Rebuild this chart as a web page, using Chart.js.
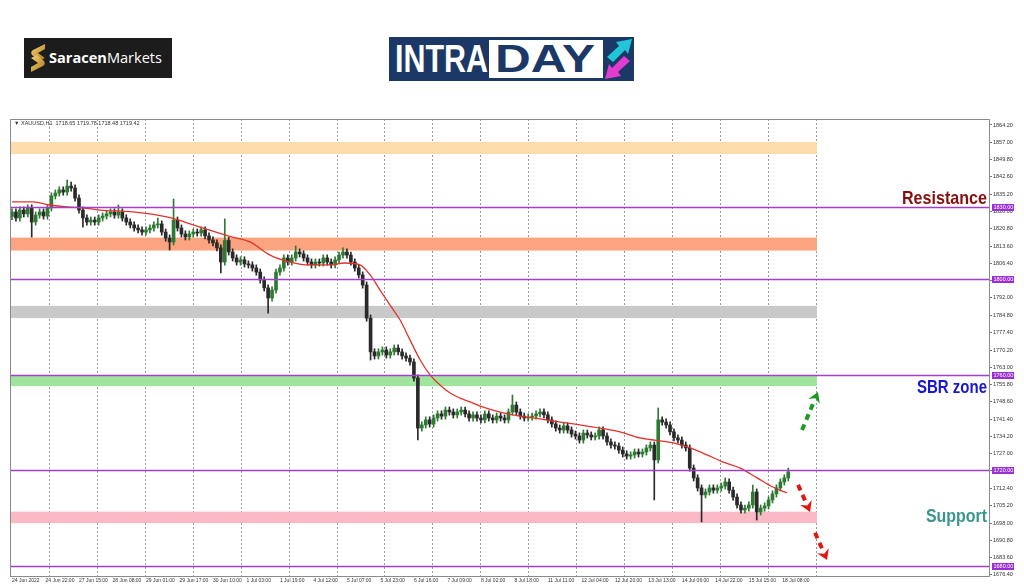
<!DOCTYPE html>
<html><head><meta charset="utf-8">
<script src="https://cdn.jsdelivr.net/npm/chart.js@4/dist/chart.umd.min.js"></script>
<style>
html,body{margin:0;padding:0;background:#fff;width:1024px;height:587px;overflow:hidden}
#chart{position:absolute;left:0;top:0}
.fit{position:absolute;white-space:nowrap;transform-origin:0 0}
#sar{position:absolute;left:24px;top:38px;width:148px;height:40px;background:#1c1c1c}
#sarText{left:25px;top:10px;color:#fff;font:14px "Open Sans",sans-serif;line-height:20px}
#intra{position:absolute;left:389px;top:37px;width:245px;height:44px;background:#1c3866}
#intraText{left:6px;top:0;color:#fff;font:bold 38px "Liberation Sans Narrow","Liberation Sans",sans-serif;line-height:44px}
#dayBox{position:absolute;left:100px;top:3px;width:114px;height:38px;background:#fff}
#dayText{left:6px;top:-3px;color:#1c3866;font:bold 38px "Liberation Sans Narrow","Liberation Sans",sans-serif;line-height:44px}
</style></head>
<body>
<canvas id="chart" width="1024" height="587"></canvas>
<div id="sar">
  <svg style="position:absolute;left:6px;top:6px" width="16" height="28" viewBox="0 0 16 28">
    <defs><linearGradient id="gold" x1="0" y1="0" x2="1" y2="1"><stop offset="0" stop-color="#f8d774"/><stop offset="1" stop-color="#a8761c"/></linearGradient></defs>
    <path d="M15 0 L3 6 Q0 8 2 11 L9 17 L15 14 L8 9 L15 5 Z" fill="url(#gold)"/>
    <path d="M1 28 L13 22 Q16 20 14 17 L7 11 L1 14 L8 19 L1 23 Z" fill="url(#gold)"/>
  </svg>
  <span id="sarText" class="fit"><b>Saracen</b>Markets</span>
</div>
<div id="intra">
  <span id="intraText" class="fit">INTRA</span>
  <div id="dayBox"><span id="dayText" class="fit">DAY</span></div>
  <svg style="position:absolute;left:214px;top:0" width="31" height="44" viewBox="0 0 31 44">
    <polygon points="4,20 16,9 13,5 29,2 25,17 22,13 10,25" fill="#22c4d8"/>
    <polygon points="27,24 15,35 18,39 2,42 6,27 9,31 21,19" fill="#e23ccf"/>
  </svg>
</div>
<script>
// ---------- DATA (2-hour candles, XAUUSD) ----------
const open = [1826.0,1827.9,1825.4,1828.7,1827.1,1829.6,1823.7,1826.6,1827.9,1826.2,
1829.6,1834.6,1835.8,1837.1,1836.2,1838.7,1837.9,1833.7,1828.7,1825.4,
1823.7,1824.5,1823.7,1825.4,1826.2,1827.1,1827.9,1826.6,1827.9,1825.4,
1823.7,1822.5,1821.2,1820.4,1819.5,1820.4,1821.2,1822.5,1822.9,1819.5,
1817.0,1815.4,1824.5,1821.2,1818.7,1817.5,1818.7,1819.5,1819.1,1820.4,
1817.9,1816.2,1815.0,1812.9,1807.0,1816.0,1811.2,1808.7,1807.0,1807.9,
1806.2,1805.8,1804.5,1802.8,1799.5,1796.2,1792.0,1795.3,1802.8,1804.5,
1808.7,1807.0,1808.7,1811.2,1810.4,1808.7,1807.0,1805.8,1807.0,1806.6,
1808.7,1807.0,1805.8,1807.9,1809.9,1811.2,1809.9,1807.0,1804.5,1801.6,
1797.4,1783.6,1769.5,1767.8,1769.5,1770.3,1768.2,1769.5,1771.1,1769.5,
1767.8,1766.9,1765.3,1758.6,1737.7,1739.0,1741.1,1739.4,1741.9,1743.6,
1742.7,1745.2,1744.4,1743.2,1744.4,1745.2,1743.6,1741.9,1743.2,1741.9,
1741.1,1743.6,1741.9,1741.1,1742.7,1741.9,1741.1,1744.4,1747.3,1744.4,
1742.7,1741.9,1742.3,1742.7,1743.6,1744.4,1743.2,1741.1,1739.4,1737.7,
1736.9,1738.6,1736.9,1735.2,1734.4,1732.7,1735.6,1734.8,1734.0,1734.4,
1736.9,1734.4,1731.9,1730.6,1730.2,1728.5,1726.9,1726.0,1726.5,1727.7,
1726.9,1727.7,1729.4,1730.6,1724.4,1741.1,1740.2,1739.0,1736.1,1733.6,
1732.7,1730.6,1729.4,1721.0,1716.9,1712.7,1709.8,1711.0,1712.7,1711.8,
1712.7,1713.5,1715.2,1711.8,1708.9,1705.6,1703.5,1704.3,1705.6,1711.0,
1702.7,1704.3,1705.2,1707.7,1710.2,1712.7,1715.2,1716.9];
const high = [1829.2,1829.2,1830.0,1830.0,1830.9,1830.9,1827.9,1829.2,1829.2,1830.9,
1835.9,1837.1,1838.4,1838.4,1841.2,1840.4,1839.2,1835.0,1830.0,1826.7,
1825.8,1825.8,1826.7,1827.5,1828.4,1829.2,1829.2,1830.8,1829.2,1826.7,
1825.0,1823.8,1822.5,1821.7,1821.7,1822.5,1823.8,1825.4,1824.2,1820.8,
1818.3,1833.3,1825.8,1822.5,1820.0,1820.0,1820.8,1820.8,1821.7,1821.7,
1819.2,1817.5,1816.3,1814.2,1825.0,1817.3,1812.5,1810.0,1809.2,1809.2,
1807.5,1807.1,1805.8,1804.1,1800.8,1797.5,1796.6,1804.1,1805.8,1810.0,
1810.0,1810.0,1813.7,1812.5,1811.7,1810.0,1808.3,1808.3,1808.3,1810.0,
1810.0,1808.3,1809.2,1811.2,1812.9,1812.5,1811.2,1808.3,1805.8,1802.9,
1798.7,1784.9,1770.8,1770.8,1771.6,1771.6,1770.8,1772.4,1772.4,1770.8,
1769.1,1768.2,1766.6,1759.9,1740.3,1742.4,1742.4,1743.2,1744.9,1744.9,
1746.5,1746.5,1745.7,1745.7,1746.5,1746.5,1744.9,1744.5,1744.5,1743.2,
1744.9,1744.9,1743.2,1744.0,1744.0,1743.2,1745.7,1751.5,1748.6,1745.7,
1744.0,1743.6,1744.0,1744.9,1745.7,1745.7,1744.5,1742.4,1740.7,1739.0,
1739.9,1739.9,1738.2,1736.5,1735.7,1736.9,1736.9,1736.1,1735.7,1738.2,
1738.2,1735.7,1733.2,1731.9,1731.5,1729.8,1728.2,1727.8,1729.0,1729.0,
1729.0,1730.7,1731.9,1731.9,1746.1,1742.4,1741.5,1740.3,1737.4,1734.9,
1734.0,1731.9,1730.7,1722.3,1718.2,1714.0,1712.3,1714.0,1714.0,1714.0,
1714.8,1716.9,1716.5,1713.1,1710.2,1706.9,1705.6,1706.9,1713.9,1712.3,
1705.6,1706.5,1709.0,1711.5,1714.0,1716.5,1718.2,1721.0];
const low = [1824.7,1824.1,1824.1,1825.8,1825.8,1817.4,1822.4,1825.3,1824.9,1824.9,
1828.3,1833.3,1834.5,1834.9,1834.9,1836.6,1832.4,1827.4,1821.6,1822.4,
1822.4,1822.4,1822.4,1824.1,1824.9,1825.8,1825.3,1825.3,1824.1,1822.4,
1821.2,1819.9,1819.1,1818.2,1818.2,1819.1,1819.9,1821.2,1818.2,1815.7,
1812.0,1814.1,1819.9,1817.4,1816.2,1816.2,1817.4,1817.8,1817.8,1816.6,
1814.9,1813.7,1811.6,1802.5,1805.7,1809.9,1807.4,1805.7,1805.7,1804.9,
1804.5,1803.2,1801.5,1798.2,1794.9,1785.7,1790.7,1794.0,1801.5,1803.2,
1805.7,1805.7,1807.4,1809.1,1807.4,1805.7,1804.5,1804.5,1805.3,1805.3,
1805.7,1804.5,1804.5,1806.6,1808.6,1808.6,1805.7,1803.2,1800.3,1796.1,
1782.3,1766.1,1766.5,1766.5,1768.2,1766.9,1766.9,1768.2,1768.2,1766.5,
1765.6,1764.0,1757.3,1732.7,1736.4,1737.7,1738.1,1738.1,1740.6,1741.4,
1741.4,1743.1,1741.9,1741.9,1743.1,1742.3,1740.6,1740.6,1740.6,1739.8,
1739.8,1740.6,1739.8,1739.8,1740.6,1739.8,1739.8,1743.1,1743.1,1741.4,
1740.6,1740.6,1741.0,1741.4,1742.3,1741.9,1739.8,1738.1,1736.4,1735.6,
1735.6,1735.6,1733.9,1733.1,1731.4,1731.4,1733.5,1732.7,1732.7,1733.1,
1733.1,1730.6,1729.3,1728.9,1727.2,1725.6,1724.7,1724.7,1725.2,1725.6,
1725.6,1726.4,1728.1,1707.7,1723.1,1738.9,1737.7,1734.8,1732.3,1731.4,
1729.3,1728.1,1719.7,1715.6,1711.4,1698.5,1708.5,1709.7,1710.5,1710.5,
1711.4,1712.2,1710.5,1707.6,1704.3,1702.2,1702.2,1703.0,1704.3,1699.3,
1701.4,1703.0,1703.9,1706.4,1708.9,1711.4,1713.9,1715.6];
const close = [1827.9,1825.4,1828.7,1827.1,1829.6,1823.7,1826.6,1827.9,1826.2,1829.6,
1834.6,1835.8,1837.1,1836.2,1838.7,1837.9,1833.7,1828.7,1825.4,1823.7,
1824.5,1823.7,1825.4,1826.2,1827.1,1827.9,1826.6,1827.9,1825.4,1823.7,
1822.5,1821.2,1820.4,1819.5,1820.4,1821.2,1822.5,1822.9,1819.5,1817.0,
1815.4,1824.5,1821.2,1818.7,1817.5,1818.7,1819.5,1819.1,1820.4,1817.9,
1816.2,1815.0,1812.9,1807.0,1816.0,1811.2,1808.7,1807.0,1807.9,1806.2,
1805.8,1804.5,1802.8,1799.5,1796.2,1792.0,1795.3,1802.8,1804.5,1808.7,
1807.0,1808.7,1811.2,1810.4,1808.7,1807.0,1805.8,1807.0,1806.6,1808.7,
1807.0,1805.8,1807.9,1809.9,1811.2,1809.9,1807.0,1804.5,1801.6,1797.4,
1783.6,1769.5,1767.8,1769.5,1770.3,1768.2,1769.5,1771.1,1769.5,1767.8,
1766.9,1765.3,1758.6,1737.7,1739.0,1741.1,1739.4,1741.9,1743.6,1742.7,
1745.2,1744.4,1743.2,1744.4,1745.2,1743.6,1741.9,1743.2,1741.9,1741.1,
1743.6,1741.9,1741.1,1742.7,1741.9,1741.1,1744.4,1747.3,1744.4,1742.7,
1741.9,1742.3,1742.7,1743.6,1744.4,1743.2,1741.1,1739.4,1737.7,1736.9,
1738.6,1736.9,1735.2,1734.4,1732.7,1735.6,1734.8,1734.0,1734.4,1736.9,
1734.4,1731.9,1730.6,1730.2,1728.5,1726.9,1726.0,1726.5,1727.7,1726.9,
1727.7,1729.4,1730.6,1724.4,1741.1,1740.2,1739.0,1736.1,1733.6,1732.7,
1730.6,1729.4,1721.0,1716.9,1712.7,1709.8,1711.0,1712.7,1711.8,1712.7,
1713.5,1715.2,1711.8,1708.9,1705.6,1703.5,1704.3,1705.6,1711.0,1702.7,
1704.3,1705.2,1707.7,1710.2,1712.7,1715.2,1716.9,1719.4];
const HOURS_PER_CANDLE = 2;

// moving average: hour index and value
const maHour  = [0,10.6,19.2,28,36,44.6,61.4,78.6,95.4,112,120.8,131,141.2,151.2,161.4,169,176.6,181.8,186.8,191.8,197,202,207.2,212.2,217.2,222.4,227.4,232.4,237.6,247.8,257.8,268,278.2,288.4,298.4,308.6,318.8,335.6,344.2,352.8,361,369.6,378.2,386.2,393.4];
const maValue = [1832.1,1832.1,1830.8,1830.0,1829.6,1828.7,1827.9,1825.8,1821.6,1817.4,1815.4,1809.9,1807.0,1805.8,1805.8,1806.6,1805.8,1801.6,1795.3,1789.1,1782.8,1774.5,1766.1,1759.9,1755.7,1752.3,1750.2,1748.6,1746.9,1744.4,1742.7,1741.5,1740.2,1739.0,1737.7,1736.1,1733.6,1731.5,1729.4,1726.5,1723.5,1721.0,1716.9,1713.1,1710.6];

// axis tick labels
const xTickLabels = ["24 Jun 2022","24 Jun 22:00","27 Jun 15:00","28 Jun 08:00","29 Jun 01:00","29 Jun 17:00","30 Jun 10:00","1 Jul 03:00","1 Jul 19:00","4 Jul 12:00","5 Jul 07:00","5 Jul 23:00","6 Jul 16:00","7 Jul 09:00","8 Jul 02:00","8 Jul 18:00","11 Jul 11:00","12 Jul 04:00","12 Jul 20:00","13 Jul 13:00","14 Jul 06:00","14 Jul 22:00","15 Jul 15:00","18 Jul 08:00"];
const HOURS_PER_XLABEL = 17;
const yTickValues = [1864.2,1857.0,1849.8,1842.6,1835.2,1828.0,1820.8,1813.6,1806.4,1799.2,1792.0,1784.8,1777.4,1770.2,1763.0,1755.8,1748.6,1741.4,1734.2,1727.0,1719.8,1712.4,1705.2,1698.0,1690.8,1683.6,1676.4];

// horizontal levels and zones
const levels = [1830, 1800, 1760, 1720, 1680];
const zoneLow  = [1852.1, 1811.8, 1783.6, 1755.2, 1698.0];
const zoneHigh = [1857.1, 1817.2, 1788.7, 1759.4, 1702.8];
const zoneColors = ['#fedcac', '#fba47f', '#c9c9c9', '#9fe59e', '#f9bac6'];

// annotations
const annotTexts  = ['Resistance', 'SBR zone', 'Support'];
const annotPrice  = [1831.2, 1752.3, 1698.5];
const annotColors = ['#8b0e0e', '#1616d4', '#389691'];
const arrowFrom = [[401.0, 1736.9], [399.0, 1714.0], [407.6, 1694.0]];
const arrowTo   = [[409.1, 1752.8], [405.1, 1702.7], [413.7, 1682.6]];
const arrowColors = ['#1c9a22', '#e5140f', '#e5140f'];
const headerText = '\u25BC XAUUSD,H1  1718.65 1719.78 1718.48 1719.42';

// ---------- layout constants ----------
const X_MIN = -0.51, X_MAX = 496.4, Y_MIN = 1675.95, Y_MAX = 1866.7;
const GRID_START = 18.8, GRID_STEP = 24.36, GRID_COUNT = 17;

const wickData = open.map((o, i) => ({x: i * HOURS_PER_CANDLE, y: [low[i], high[i]]}));
const bodyData = open.map((o, i) => ({x: i * HOURS_PER_CANDLE, y: [Math.min(o, close[i]), Math.max(o, close[i])]}));
const maData = maHour.map((h, i) => ({x: h, y: maValue[i]}));
const candleColor = ctx => close[ctx.dataIndex] >= open[ctx.dataIndex] ? '#2f7a33' : '#2a2a2a';

const overlay = {
  id: 'overlay',
  beforeDatasetsDraw(chart) {
    const {ctx, chartArea: a, scales: {x, y}} = chart;
    const xEnd = x.getPixelForValue(GRID_START + GRID_STEP * (GRID_COUNT - 1));
    ctx.save();
    zoneLow.forEach((lo, i) => {
      const yt = y.getPixelForValue(zoneHigh[i]), yb = y.getPixelForValue(lo);
      ctx.fillStyle = zoneColors[i];
      ctx.fillRect(a.left, yt, xEnd - a.left, yb - yt);
    });
    ctx.restore();
  },
  afterDatasetsDraw(chart) {
    const {ctx, chartArea: a, scales: {x, y}} = chart;
    ctx.save();
    ctx.strokeStyle = '#a23fc7'; ctx.lineWidth = 1.3;
    levels.forEach(v => {
      const py = Math.round(y.getPixelForValue(v)) + 0.5;
      ctx.beginPath(); ctx.moveTo(a.left, py); ctx.lineTo(a.right, py); ctx.stroke();
    });
    arrowFrom.forEach((f, i) => {
      const x1 = x.getPixelForValue(f[0]), y1 = y.getPixelForValue(f[1]);
      const x2 = x.getPixelForValue(arrowTo[i][0]), y2 = y.getPixelForValue(arrowTo[i][1]);
      const ang = Math.atan2(y2 - y1, x2 - x1), head = 12;
      const bx = x2 - Math.cos(ang) * head * 0.75, by = y2 - Math.sin(ang) * head * 0.75;
      ctx.strokeStyle = arrowColors[i]; ctx.fillStyle = arrowColors[i];
      ctx.lineWidth = 4; ctx.setLineDash([6, 5]);
      ctx.beginPath(); ctx.moveTo(x1, y1); ctx.lineTo(bx, by); ctx.stroke();
      ctx.setLineDash([]);
      ctx.beginPath();
      ctx.moveTo(x2, y2);
      ctx.lineTo(x2 - Math.cos(ang - 0.55) * head, y2 - Math.sin(ang - 0.55) * head);
      ctx.lineTo(bx + Math.cos(ang) * 2, by + Math.sin(ang) * 2);
      ctx.lineTo(x2 - Math.cos(ang + 0.55) * head, y2 - Math.sin(ang + 0.55) * head);
      ctx.closePath(); ctx.fill();
    });
    ctx.restore();
  },
  afterDraw(chart) {
    const {ctx, chartArea: a, scales: {y}} = chart;
    ctx.save();
    ctx.strokeStyle = '#8a8a8a'; ctx.lineWidth = 1;
    ctx.strokeRect(a.left - 0.5, a.top + 0.5, a.right - a.left, a.bottom - a.top);
    ctx.fillStyle = '#333'; ctx.font = '5.5px "Liberation Sans", sans-serif';
    ctx.textBaseline = 'middle'; ctx.textAlign = 'left';
    ctx.fillText(headerText, a.left + 3, a.top + 4);
    ctx.font = '5.5px "Liberation Sans", sans-serif';
    levels.forEach(v => {
      const py = Math.round(y.getPixelForValue(v)) + 0.5;
      ctx.fillStyle = '#9b2fd6';
      ctx.fillRect(a.right + 2, py - 3.5, 22, 7);
      ctx.fillStyle = '#fff'; ctx.textAlign = 'left';
      ctx.fillText(v.toFixed(2), a.right + 3.5, py + 0.3);
    });
    const widths = [85, 70, 61];
    annotTexts.forEach((t, i) => {
      ctx.font = 'bold 19px "Liberation Sans", sans-serif';
      ctx.textBaseline = 'alphabetic'; ctx.textAlign = 'left';
      const w = ctx.measureText(t).width;
      const py = y.getPixelForValue(annotPrice[i]);
      ctx.save();
      ctx.translate(a.right - 3 - widths[i], py);
      ctx.scale(widths[i] / w, 1);
      ctx.fillStyle = annotColors[i];
      ctx.fillText(t, 0, 0);
      ctx.restore();
    });
    ctx.restore();
  }
};

new Chart(document.getElementById('chart'), {
  data: {
    datasets: [
      {type: 'line', data: maData, borderColor: '#e2332b', borderWidth: 1.3, pointRadius: 0,
       cubicInterpolationMode: 'monotone', order: 0},
      {type: 'bar', data: bodyData, backgroundColor: candleColor, barThickness: 3, grouped: false,
       minBarLength: 1, order: 1},
      {type: 'bar', data: wickData, backgroundColor: candleColor, barThickness: 1, grouped: false, order: 2}
    ]
  },
  options: {
    responsive: false, animation: false, events: [],
    layout: {padding: {left: 11, top: 119, right: 0, bottom: 0}},
    plugins: {legend: {display: false}, tooltip: {enabled: false}},
    scales: {
      x: {
        type: 'linear', position: 'bottom', min: X_MIN, max: X_MAX, offset: false,
        afterBuildTicks: s => { s.ticks = xTickLabels.map((l, i) => ({value: i * HOURS_PER_XLABEL})); },
        ticks: {autoSkip: false, maxRotation: 0, minRotation: 0, align: 'start', padding: 2,
                color: '#333', font: {size: 5, family: '"Liberation Sans", sans-serif'},
                callback: (v, i) => xTickLabels[i]},
        grid: {display: false, drawTicks: false, offset: false},
        border: {display: false},
        afterFit: s => { s.height = 11; }
      },
      xg: {
        type: 'linear', position: 'top', min: X_MIN, max: X_MAX, offset: false,
        afterBuildTicks: s => {
          const t = [];
          for (let k = 0; k < GRID_COUNT; k++) t.push({value: GRID_START + k * GRID_STEP});
          s.ticks = t;
        },
        ticks: {display: false},
        grid: {color: '#9a9a9a', lineWidth: 1, drawTicks: false},
        border: {display: false, dash: [2, 2]},
        afterFit: s => { s.height = 0; }
      },
      y: {
        position: 'right', min: Y_MIN, max: Y_MAX,
        afterBuildTicks: s => { s.ticks = yTickValues.map(v => ({value: v})); },
        ticks: {padding: 1, color: '#333', font: {size: 5.5, family: '"Liberation Sans", sans-serif'},
                callback: v => v.toFixed(2)},
        grid: {drawOnChartArea: false, tickLength: 2, color: '#777'},
        border: {display: false},
        afterFit: s => { s.width = 34; }
      }
    }
  },
  plugins: [overlay]
});

function fit(id, w) {
  const el = document.getElementById(id);
  const r = el.getBoundingClientRect().width;
  el.style.transform = 'scaleX(' + (w / r) + ')';
}
fit('sarText', 113);
fit('intraText', 93);
fit('dayText', 100);
</script>
</body></html>
